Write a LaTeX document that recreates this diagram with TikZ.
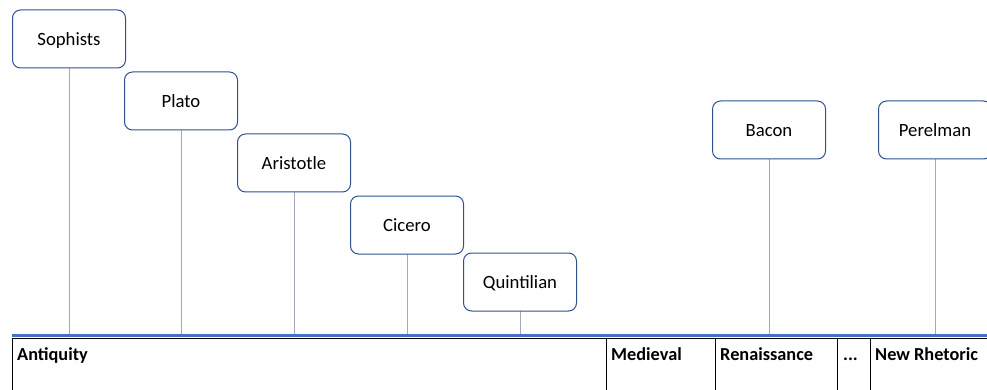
\documentclass[tikz,border=0pt]{standalone}
\usepackage{fontspec}
\setmainfont{Carlito}
\definecolor{boxline}{HTML}{2F528F}
\definecolor{stem}{HTML}{A5A8B8}
\definecolor{axis}{HTML}{4472C4}
\begin{document}
\begin{tikzpicture}[x=1pt,y=-1pt,
  person/.style={draw=boxline,line width=1pt,rounded corners=8pt,fill=white,
    minimum width=113pt,minimum height=58pt,font=\fontsize{18.7}{22}\selectfont,inner sep=0pt,
    text height=12.5pt,text depth=0pt},
  stemline/.style={draw=stem,line width=1pt},
  era/.style={anchor=base west,font=\bfseries\fontsize{18.3}{22}\selectfont,inner sep=0pt},
  divider/.style={draw=black,line width=1pt}]
\useasboundingbox (0,0) rectangle (987,390);
\clip (0,0) rectangle (987,390);
% axis anchors
\coordinate (axL) at (12,335);
\coordinate (axR) at (987,335);
% stems first, boxes drawn over them
\foreach \nm/\cx/\cy in {soph/69/39, plato/181/101, arist/294/163, cic/407/225, quint/520/282, bacon/769/130, perel/935/130}{
  \coordinate (\nm-foot) at (\cx,335);
  \coordinate (\nm-c) at (\cx,\cy);
  \draw[stemline] (\nm-c) -- (\nm-foot);
}
\node[person] (soph) at (69,39) {Sophists};
\node[person] (plato) at (181,101) {Plato};
\node[person] (arist) at (294,163) {Aristotle};
\node[person] (cic) at (407,225) {Cicero};
\node[person] (quint) at (520,282) {Quintilian};
\node[person] (bacon) at (769,130) {Bacon};
\node[person] (perel) at (935,130) {Perelman};
% timeline axis
\draw[draw=axis,line width=3pt] (axL) -- (axR);
\coordinate (tbL) at (12,338.5);
\coordinate (tbR) at (987,338.5);
\draw[divider] (tbL) -- (tbR);
% era separators
\foreach \xx in {12,606,715,837,870}{
  \coordinate (sepT) at (\xx,338.5);
  \coordinate (sepB) at (\xx,390);
  \draw[divider] (sepT) -- (sepB);
}
\node[era] (e1) at (17,360) {Antiquity};
\node[era] (e2) at (611,360) {Medieval};
\node[era] (e3) at (720,360) {Renaissance};
\node[era] (e4) at (843,360) {...};
\node[era] (e5) at (875,360) {New Rhetoric};
\end{tikzpicture}
\end{document}
